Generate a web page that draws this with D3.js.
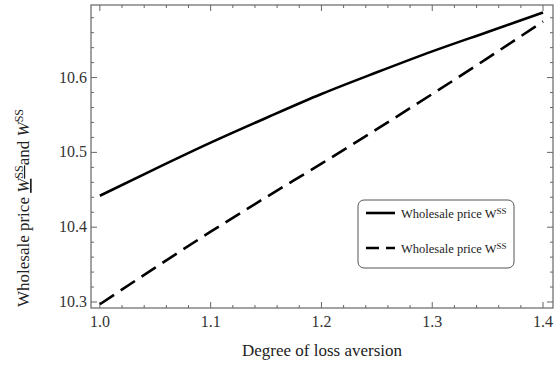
<!DOCTYPE html>
<html>
<head>
<meta charset="utf-8">
<script src="https://cdn.jsdelivr.net/npm/d3@7"></script>
<style>
  body { margin: 0; background: white; }
</style>
</head>
<body>
<svg width="556" height="365"></svg>
<script>
const svg = d3.select('svg');
const width = +svg.attr('width');
const height = +svg.attr('height');
const font = 'Liberation Serif';

// data
const lossAversion = [1.0, 1.05, 1.1, 1.15, 1.2, 1.25, 1.3, 1.35, 1.4];
const priceSolid  = [10.442, 10.478, 10.513, 10.546, 10.578, 10.607, 10.635, 10.661, 10.687];
const priceDashed = [10.297, 10.346, 10.394, 10.440, 10.485, 10.531, 10.578, 10.626, 10.675];
const xTicks = [1.0, 1.1, 1.2, 1.3, 1.4];
const yTicks = [10.3, 10.4, 10.5, 10.6];
const legendLabels = ['Wholesale price W', 'Wholesale price W'];

const margin = {top: 5, right: 3, bottom: 57, left: 91};
const innerWidth = width - margin.left - margin.right;
const innerHeight = height - margin.top - margin.bottom;

const xScale = d3.scaleLinear().domain([0.992, 1.409]).range([0, innerWidth]);
const yScale = d3.scaleLinear().domain([10.292, 10.697]).range([innerHeight, 0]);

const g = svg.append('g').attr('transform', `translate(${margin.left},${margin.top})`);

const frameColor = '#666';
const minorX = d3.range(1.0, 1.4001, 0.02).filter(v => Math.abs(v * 10 - Math.round(v * 10)) > 1e-6);
const minorY = d3.range(10.3, 10.6961, 0.02).filter(v => Math.abs(v * 10 - Math.round(v * 10)) > 1e-6);

// ticks on all four sides, pointing inward
const tickG = g.append('g').attr('stroke', frameColor).attr('stroke-width', 1);
const addX = (vals, len) => vals.forEach(v => {
  tickG.append('line').attr('x1', xScale(v)).attr('x2', xScale(v)).attr('y1', innerHeight).attr('y2', innerHeight - len);
  tickG.append('line').attr('x1', xScale(v)).attr('x2', xScale(v)).attr('y1', 0).attr('y2', len);
});
const addY = (vals, len) => vals.forEach(v => {
  tickG.append('line').attr('y1', yScale(v)).attr('y2', yScale(v)).attr('x1', 0).attr('x2', len);
  tickG.append('line').attr('y1', yScale(v)).attr('y2', yScale(v)).attr('x1', innerWidth).attr('x2', innerWidth - len);
});
addX(xTicks, 6); addX(minorX, 3);
addY(yTicks, 6); addY(minorY, 3);

g.append('rect')
  .attr('width', innerWidth).attr('height', innerHeight)
  .attr('fill', 'none').attr('stroke', frameColor).attr('stroke-width', 1.2);

g.selectAll('.xlab').data(xTicks).enter().append('text')
  .attr('font-family', font)
  .attr('x', d => xScale(d)).attr('y', innerHeight + 19)
  .attr('text-anchor', 'middle').attr('font-size', 16).attr('fill', '#333')
  .text(d => d3.format('.1f')(d));

g.selectAll('.ylab').data(yTicks).enter().append('text')
  .attr('font-family', font)
  .attr('x', -4).attr('y', d => yScale(d) + 5)
  .attr('text-anchor', 'end').attr('font-size', 16).attr('fill', '#333')
  .text(d => d3.format('.1f')(d));

const line = d3.line().x(d => xScale(d[0])).y(d => yScale(d[1])).curve(d3.curveMonotoneX);

g.append('path')
  .datum(lossAversion.map((x, i) => [x, priceSolid[i]]))
  .attr('d', line).attr('fill', 'none').attr('stroke', '#000').attr('stroke-width', 2.6);

g.append('path')
  .datum(lossAversion.map((x, i) => [x, priceDashed[i]]))
  .attr('d', line).attr('fill', 'none').attr('stroke', '#000').attr('stroke-width', 2.6)
  .attr('stroke-dasharray', '17,8');

// legend
const lg = svg.append('g').attr('transform', 'translate(358,200)');
lg.append('rect').attr('width', 156).attr('height', 68).attr('rx', 6)
  .attr('fill', 'white').attr('stroke', '#555').attr('stroke-width', 1);
legendLabels.forEach((lab, i) => {
  const y = 13 + i * 35;
  lg.append('line').attr('x1', 8).attr('x2', 37).attr('y1', y).attr('y2', y)
    .attr('stroke', '#000').attr('stroke-width', 2.6)
    .attr('stroke-dasharray', i === 1 ? '13,7' : null);
  const t = lg.append('text').attr('font-family', font)
    .attr('x', 43).attr('y', y + 5).attr('font-size', 12.5).attr('fill', '#222');
  t.append('tspan').text(lab);
  t.append('tspan').attr('dy', -4).attr('font-size', 9).text('SS');
});

svg.append('text').attr('font-family', font)
  .attr('x', margin.left + innerWidth / 2).attr('y', 356)
  .attr('text-anchor', 'middle').attr('font-size', 17).attr('fill', '#222')
  .text('Degree of loss aversion');

const yl = svg.append('text').attr('font-family', font)
  .attr('transform', 'translate(29,208) rotate(-90)')
  .attr('text-anchor', 'middle').attr('font-size', 17).attr('fill', '#222');
yl.append('tspan').text('Wholesale price ');
yl.append('tspan').attr('font-style', 'italic').attr('text-decoration', 'underline').text('W');
yl.append('tspan').attr('dy', -6).attr('font-size', 12).attr('text-decoration', 'underline').text('SS');
yl.append('tspan').attr('dy', 6).text('and ');
yl.append('tspan').attr('font-style', 'italic').text('W');
yl.append('tspan').attr('dy', -6).attr('font-size', 12).text('SS');
</script>
</body>
</html>
